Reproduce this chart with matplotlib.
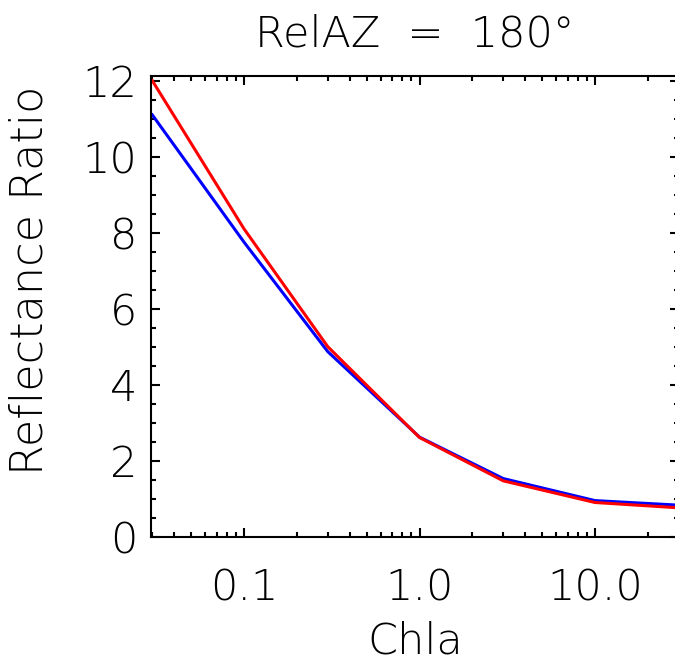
import matplotlib
matplotlib.use('Agg')
import matplotlib.pyplot as plt
from matplotlib.ticker import FixedLocator, MultipleLocator, LogLocator, NullFormatter

# values
chla = [0.03, 0.1, 0.3, 1.0, 3.0, 10.0, 30.0]
ratio_blue = [11.1, 7.75, 4.87, 2.62, 1.53, 0.95, 0.83]
ratio_red = [12.0, 8.1, 5.0, 2.61, 1.47, 0.90, 0.76]
xticks = [0.1, 1.0, 10.0]
xticklabels = ['0.1', '1.0', '10.0']
yticks = [0, 2, 4, 6, 8, 10, 12]

plt.rcParams['font.family'] = ['DejaVu Sans']
plt.rcParams['font.weight'] = 'light'
fs = 31

W, H = 675, 663
fig = plt.figure(figsize=(W / 100, H / 100), dpi=100)
# axes box in pixels: left 151, right ~679 (runs past the image edge), top 76, bottom 537
ax = fig.add_axes([151 / W, (H - 536.7) / H, (678.7 - 151) / W, (536.7 - 75.7) / H])

ax.plot(chla, ratio_blue, color='#0000ff', lw=2.2)
ax.plot(chla, ratio_red, color='#ff0000', lw=2.2)

ax.set_xscale('log')
ax.set_xlim(0.0295, 30)
ax.set_ylim(0, 12.13)

ax.xaxis.set_major_locator(FixedLocator(xticks))
ax.set_xticklabels(xticklabels)
ax.xaxis.set_minor_locator(LogLocator(base=10, subs=range(2, 10)))
ax.xaxis.set_minor_formatter(NullFormatter())
ax.yaxis.set_major_locator(FixedLocator(yticks))
ax.yaxis.set_minor_locator(MultipleLocator(0.5))

for sp in ax.spines.values():
    sp.set_linewidth(1.5)
ax.tick_params(which='both', direction='in', top=True, right=True, width=1.5)
ax.tick_params(which='major', length=6.5)
ax.tick_params(which='minor', length=3.3)
ax.tick_params(axis='x', which='major', labelsize=fs, pad=22)
ax.tick_params(axis='y', which='major', labelsize=fs, pad=10)

fig.text(415 / W, 1 - 34 / H, 'RelAZ  =  180\u00b0', fontsize=fs, ha='center', va='center')
fig.text(415 / W, 1 - 641 / H, 'Chla', fontsize=fs, ha='center', va='center')
fig.text(30 / W, 1 - 280 / H, 'Reflectance Ratio', fontsize=fs + 1, ha='center', va='center',
         rotation=90)

fig.savefig('out.png', dpi=100)
